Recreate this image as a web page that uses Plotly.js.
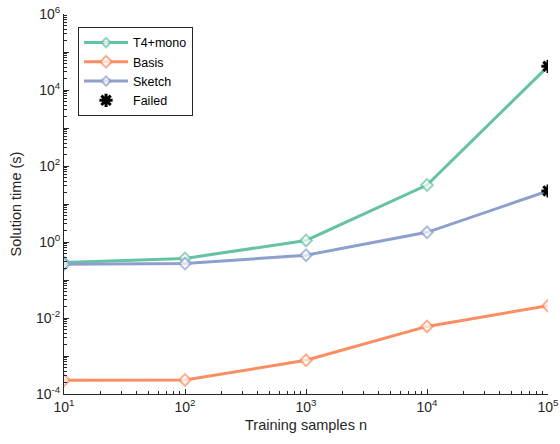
<!DOCTYPE html>
<html><head><meta charset="utf-8">
<script src="https://cdn.plot.ly/plotly-3.0.1.min.js"></script>
<style>html,body{margin:0;padding:0;background:#fff}#plot{width:560px;height:444px}</style>
</head><body><div id="plot"></div>
<script>
const samples = [10, 100, 1000, 10000, 100000];
const t4mono = [0.29, 0.37, 1.1, 31.6, 42000];
const basis = [0.00023, 0.000235, 0.00077, 0.006, 0.021];
const sketch = [0.26, 0.27, 0.45, 1.8, 22];
const failedX = [100000, 100000];
const failedY = [42000, 22];
const xTickVals = [10, 100, 1000, 10000, 100000];
const xTickText = ['10<sup>1</sup>', '10<sup>2</sup>', '10<sup>3</sup>', '10<sup>4</sup>', '10<sup>5</sup>'];
const yTickVals = [1e-4, 1e-3, 1e-2, 1e-1, 1, 10, 100, 1e3, 1e4, 1e5, 1e6];
const yTickText = ['10<sup>-4</sup>', '', '10<sup>-2</sup>', '', '10<sup>0</sup>', '', '10<sup>2</sup>', '', '10<sup>4</sup>', '', '10<sup>6</sup>'];

const fam = 'Liberation Sans, Arial, sans-serif';
const tickFont = {family: fam, size: 14, color: '#262626'};
const titleFont = {family: fam, size: 14.5, color: '#262626'};
function series(name, y, color, failLast) {
  const sizes = y.map((v, i) => (failLast && i === y.length - 1) ? 0 : 9);
  return {
    x: samples, y: y, name: name, type: 'scatter', mode: 'lines+markers',
    line: {color: color, width: 3},
    marker: {symbol: 'diamond', size: sizes, color: 'white', line: {color: color, width: 2}}
  };
}
const traces = [
  series('T4+mono', t4mono, '#66c2a5', true),
  series('Basis', basis, '#fc8d62', false),
  series('Sketch', sketch, '#8da0cb', true),
  {x: failedX, y: failedY, name: 'Failed', type: 'scatter', mode: 'markers',
   marker: {symbol: 'asterisk-open', size: 11, color: 'black', line: {color: 'black', width: 3}}}
];
const axisCommon = {
  type: 'log', showgrid: false, zeroline: false, showline: true, linecolor: '#262626', linewidth: 1,
  ticks: 'inside', ticklen: 5, tickcolor: '#262626', tickmode: 'array', tickfont: tickFont, mirror: false,
  minor: {ticks: 'inside', ticklen: 3, dtick: 'D1', tickcolor: '#262626', showgrid: false}
};
const layout = {
  width: 560, height: 444,
  margin: {l: 64, r: 12, t: 14, b: 50},
  paper_bgcolor: 'white', plot_bgcolor: 'white',
  font: tickFont,
  showlegend: true,
  legend: {x: 0.029, y: 0.966, xanchor: 'left', yanchor: 'top', bordercolor: '#262626', borderwidth: 1,
           bgcolor: 'white', font: {family: fam, size: 12.5, color: '#000'}, tracegroupgap: 0,
           itemwidth: 44},
  xaxis: Object.assign({}, axisCommon, {range: [1, 5], tickvals: xTickVals, ticktext: xTickText,
    title: {text: 'Training samples n', font: titleFont, standoff: 6}}),
  yaxis: Object.assign({}, axisCommon, {range: [-4, 6], tickvals: yTickVals, ticktext: yTickText,
    title: {text: 'Solution time (s)', font: titleFont, standoff: 10}})
};
Plotly.newPlot('plot', traces, layout, {staticPlot: true, displayModeBar: false});
</script></body></html>
